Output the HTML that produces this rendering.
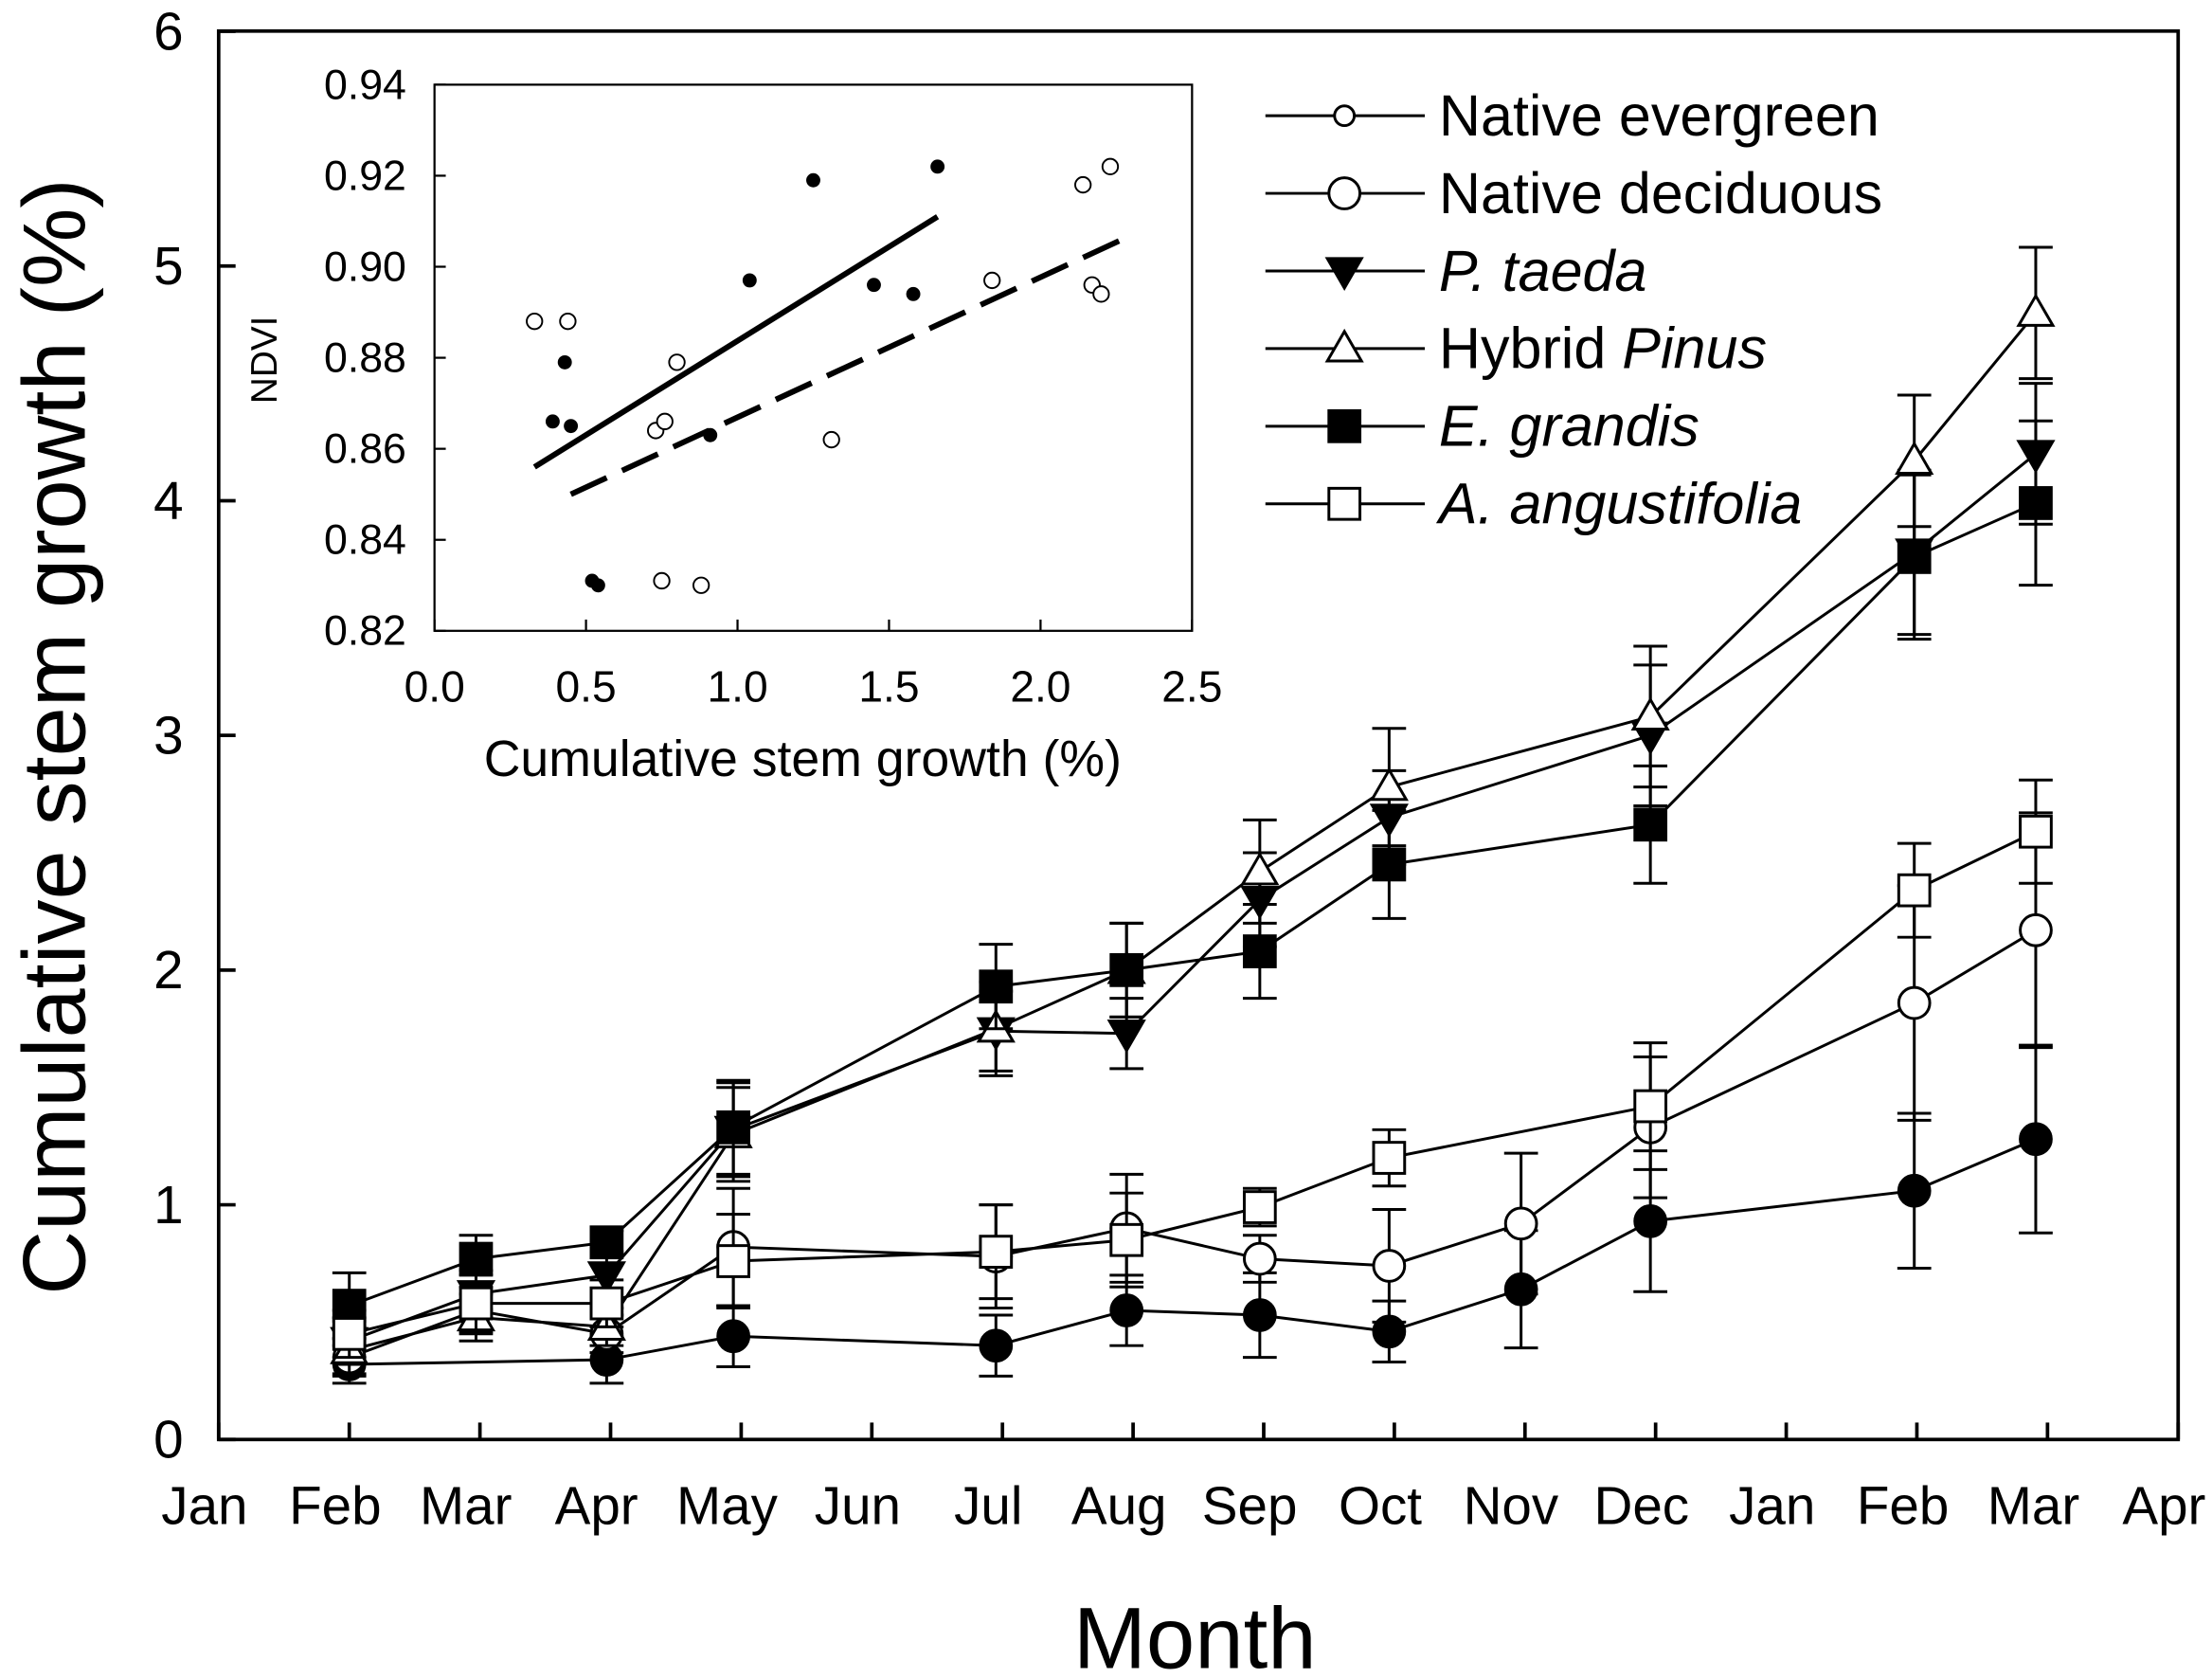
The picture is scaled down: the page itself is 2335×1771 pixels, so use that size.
<!DOCTYPE html>
<html><head><meta charset="utf-8"><style>
html,body{margin:0;padding:0;background:#fff}
svg{display:block;font-family:"Liberation Sans",Arial,sans-serif}
</style></head><body>
<svg id="chart" width="2335" height="1771" viewBox="0 0 1568 1189" preserveAspectRatio="none" xmlns="http://www.w3.org/2000/svg">
<g id="main"></g>
<g id="inset"></g>
<g id="legend"></g>
</svg>
<script>
const monthLabels=["Jan","Feb","Mar","Apr","May","Jun","Jul","Aug","Sep","Oct","Nov","Dec","Jan","Feb","Mar","Apr"];
const yTicks=[0,1,2,3,4,5,6];
const monthPos=[1.0,1.97,2.97,3.94,5.95,6.95,7.97,8.96,9.97,10.96,12.98,13.91];
const evergreenVals=[0.32,null,0.34,0.44,0.40,0.55,0.53,0.46,0.64,0.93,1.06,1.28];
const evergreenErr=[0.08,null,0.10,0.13,0.13,0.15,0.18,0.13,0.25,0.30,0.33,0.40];
const deciduousVals=[0.35,0.55,0.45,0.82,0.78,0.90,0.77,0.74,0.92,1.33,1.86,2.17];
const deciduousErr=[0.08,0.1,0.08,0.25,0.22,0.23,0.10,0.24,0.30,0.30,0.50,0.50];
const taedaVals=[0.42,0.62,0.70,1.32,1.74,1.73,2.30,2.65,null,3.00,3.78,4.20];
const taedaErr=[0.1,0.1,0.1,0.2,0.17,0.15,0.2,0.2,null,0.3,0.35,0.3];
const hybridVals=[0.38,0.52,0.48,1.30,1.75,2.00,2.42,2.78,null,3.08,4.17,4.80];
const hybridErr=[0.1,0.1,0.08,0.2,0.2,0.2,0.22,0.25,0.3,0.3,0.28,0.28];
const grandisVals=[0.57,0.77,0.84,1.33,1.93,2.00,2.08,2.45,null,2.62,3.76,3.99];
const grandisErr=[0.14,0.1,0.05,0.2,0.18,0.2,0.2,0.23,null,0.25,0.35,0.35];
const angustVals=[0.45,0.58,0.58,0.76,0.80,0.85,0.99,1.20,null,1.42,2.34,2.59];
const angustErr=[0.1,0.12,0.1,0.2,0.2,0.2,0.08,0.12,null,0.27,0.2,0.22];

const insetXTicks=[0.0,0.5,1.0,1.5,2.0,2.5];
const insetYTicks=[0.82,0.84,0.86,0.88,0.90,0.92,0.94];
const filledX=[0.39,0.43,0.45,0.52,0.54,0.91,1.04,1.25,1.45,1.58,1.66];
const filledY=[0.866,0.879,0.865,0.831,0.830,0.863,0.897,0.919,0.896,0.894,0.922];
const openX=[0.33,0.44,0.73,0.76,0.80,0.75,0.88,1.31,1.84,2.14,2.17,2.20,2.23];
const openY=[0.888,0.888,0.864,0.866,0.879,0.831,0.830,0.862,0.897,0.918,0.896,0.894,0.922];
const solidFitX=[0.33,1.66], solidFitY=[0.856,0.911];
const dashFitX=[0.45,2.27], dashFitY=[0.850,0.906];

const NS="http://www.w3.org/2000/svg";
function mk(parent,tag,attrs,text){const e=document.createElementNS(NS,tag);for(const k in attrs)e.setAttribute(k,attrs[k]);if(text!==undefined)e.textContent=text;parent.appendChild(e);return e;}
const X=i=>155+i*92.6, Y=v=>1020-v*166.3;
const main=document.getElementById('main');
let f=mk(main,'rect',{x:155,y:22,width:1389,height:998,fill:'none',stroke:'#000','stroke-width':2.5});

monthLabels.forEach((m,i)=>{
 let t=mk(main,'line',{x1:X(i),x2:X(i),y1:1020,y2:1008,stroke:'#000','stroke-width':2.5});
 
 let l=mk(main,'text',{x:X(i)-10,y:1080,'font-size':38,'text-anchor':'middle'},m);
 
});
yTicks.forEach(v=>{
 let t=mk(main,'line',{x1:155,x2:167,y1:Y(v),y2:Y(v),stroke:'#000','stroke-width':2.5});
 
 let l=mk(main,'text',{x:130,y:Y(v)+13,'font-size':38,'text-anchor':'end'},v);
 
});
let xt=mk(main,'text',{x:847,y:1182,'font-size':62,'text-anchor':'middle'},'Month');

let yt=mk(main,'text',{x:60,y:522,'font-size':63,'text-anchor':'middle',transform:'rotate(-90 60 522)'},'Cumulative stem growth (%)');


function marker(g,shape,cx,cy,filled,s){
 const fill=filled?'#000':'#fff';const a={fill:fill,stroke:'#000','stroke-width':2};let e;
 if(shape==='circle')e=mk(g,'circle',Object.assign({cx:cx,cy:cy,r:s},a));
 else if(shape==='square')e=mk(g,'rect',Object.assign({x:cx-s,y:cy-s,width:2*s,height:2*s},a));
 else if(shape==='down')e=mk(g,'polygon',Object.assign({points:`${cx-s*1.1},${cy-s*0.8} ${cx+s*1.1},${cy-s*0.8} ${cx},${cy+s*1.1}`},a));
 else e=mk(g,'polygon',Object.assign({points:`${cx-s*1.1},${cy+s*0.8} ${cx+s*1.1},${cy+s*0.8} ${cx},${cy-s*1.1}`},a));
 return e;
}
const series=[
 ['native-evergreen',evergreenVals,evergreenErr,'circle',true],
 ['native-deciduous',deciduousVals,deciduousErr,'circle',false],
 ['p-taeda',taedaVals,taedaErr,'down',true],
 ['hybrid-pinus',hybridVals,hybridErr,'up',false],
 ['e-grandis',grandisVals,grandisErr,'square',true],
 ['a-angustifolia',angustVals,angustErr,'square',false]];
series.forEach(([name,vals,errs,shape,filled])=>{
 const g=mk(main,'g',{});
 
 const pts=[];vals.forEach((v,i)=>{if(v!=null)pts.push([X(monthPos[i]),Y(v)]);});
 let ln=mk(g,'polyline',{points:pts.map(p=>p.join(',')).join(' '),fill:'none',stroke:'#000','stroke-width':2});
 
 vals.forEach((v,i)=>{if(v==null||errs[i]==null)return;const x=X(monthPos[i]);
  const eb=mk(g,'path',{d:`M${x},${Y(v-errs[i])}V${Y(v+errs[i])}M${x-12},${Y(v-errs[i])}h24M${x-12},${Y(v+errs[i])}h24`,stroke:'#000','stroke-width':2,fill:'none'});
  });
 vals.forEach((v,i)=>{if(v==null)return;
  const m=marker(g,shape,X(monthPos[i]),Y(v),filled,11);
  });
});

// legend
const leg=document.getElementById('legend');
const legItems=[['Native evergreen',null,'circle',false,7],['Native deciduous',null,'circle',false,11],['P. taeda','i','down',true,11],['Hybrid ','Pinus','up',false,11],['E. grandis','i','square',true,11],['A. angustifolia','i','square',false,11]];
legItems.forEach((it,k)=>{
 const y=82+k*55;const g=mk(leg,'g',{});
 
 mk(g,'line',{x1:897,x2:1010,y1:y,y2:y,stroke:'#000','stroke-width':2});
 marker(g,it[2],953,y,it[3],it[4]);
 const t=mk(g,'text',{x:1020,y:y+14,'font-size':41});
 if(it[1]==='i'){t.setAttribute('font-style','italic');t.textContent=it[0];}
 else if(it[1]){t.textContent=it[0];const s=mk(t,'tspan',{'font-style':'italic'},it[1]);}
 else t.textContent=it[0];
});

// inset
const ins=document.getElementById('inset');
const IX=v=>308+v*214.8, IY=v=>447-(v-0.82)*3225;
let ifr=mk(ins,'rect',{x:308,y:60,width:537,height:387,fill:'#fff',stroke:'#000','stroke-width':1.5});

insetXTicks.forEach(v=>{
 let t=mk(ins,'line',{x1:IX(v),x2:IX(v),y1:447,y2:439,stroke:'#000','stroke-width':1.5});
 
 let l=mk(ins,'text',{x:IX(v),y:497,'font-size':31,'text-anchor':'middle'},v.toFixed(1));
 
});
insetYTicks.forEach(v=>{
 let t=mk(ins,'line',{x1:308,x2:316,y1:IY(v),y2:IY(v),stroke:'#000','stroke-width':1.5});
 
 let l=mk(ins,'text',{x:288,y:IY(v)+10,'font-size':30,'text-anchor':'end'},v.toFixed(2));
 
});
let ixt=mk(ins,'text',{x:569,y:550,'font-size':36,'text-anchor':'middle'},'Cumulative stem growth (%)');

let iyt=mk(ins,'text',{x:196,y:255,'font-size':26,'text-anchor':'middle',transform:'rotate(-90 196 255)'},'NDVI');

let sl=mk(ins,'line',{x1:IX(solidFitX[0]),y1:IY(solidFitY[0]),x2:IX(solidFitX[1]),y2:IY(solidFitY[1]),stroke:'#000','stroke-width':4});

let dl=mk(ins,'line',{x1:IX(dashFitX[0]),y1:IY(dashFitY[0]),x2:IX(dashFitX[1]),y2:IY(dashFitY[1]),stroke:'#000','stroke-width':4,'stroke-dasharray':'28 12'});

filledX.forEach((x,i)=>{let c=mk(ins,'circle',{cx:IX(x),cy:IY(filledY[i]),r:5,fill:'#000'});
 });
openX.forEach((x,i)=>{let c=mk(ins,'circle',{cx:IX(x),cy:IY(openY[i]),r:5.5,fill:'#fff',stroke:'#000','stroke-width':1.3});
 });
</script>
</body></html>
